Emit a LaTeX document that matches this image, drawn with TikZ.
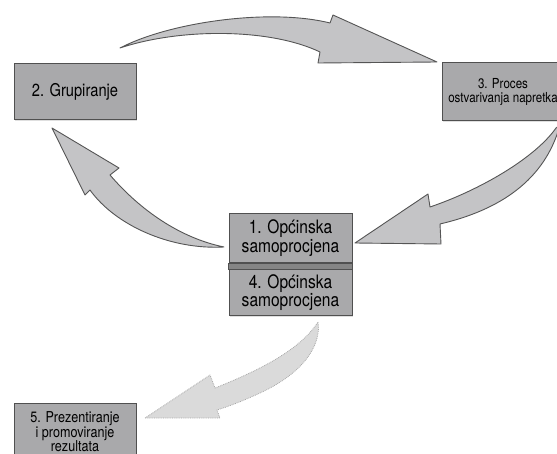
\documentclass[tikz,border=0pt]{standalone}
\usepackage{fontspec}
\setmainfont{TeX Gyre Heros}[FakeStretch=0.84]
\usetikzlibrary{shadows}
\definecolor{boxfill}{HTML}{A9A9AB}
\definecolor{boxline}{HTML}{505050}
\definecolor{arrfill}{HTML}{C4C4C6}
\definecolor{arrline}{HTML}{555555}
\definecolor{lightfill}{HTML}{DADADA}
\definecolor{lightline}{HTML}{A8A8A8}
\definecolor{bandfill}{HTML}{858585}
\tikzset{
  stepbox/.style={draw=boxline, line width=1pt, fill=boxfill, align=center,
    inner sep=0pt, minimum width=122pt,
    drop shadow={opacity=0.25, shadow xshift=1pt, shadow yshift=-1.2pt}},
  blockarrow/.style={draw=arrline, line width=0.9pt, fill=arrfill, line join=round},
  lightarrow/.style={draw=lightline, line width=0.8pt, densely dotted, fill=lightfill, line join=round}
}
\begin{document}
\begin{tikzpicture}[x=1pt, y=-1pt]
\useasboundingbox (0,0) rectangle (557,454);
\clip (0,0) rectangle (557,454);
% block arrows
\draw[blockarrow] (120,48) .. controls (170,22) and (270,8) .. (330,23)
  -- (333,15) -- (437,62) -- (318,63) -- (320,52)
  .. controls (270,28) and (180,28) .. cycle;
\draw[blockarrow] (560,125) .. controls (545,180) and (500,210) .. (440,224)
  -- (441,244) -- (355,243) -- (428,194) -- (430,207)
  .. controls (480,190) and (535,158) .. (556,128) -- cycle;
\draw[blockarrow] (52,128) -- (119,168) -- (110,175)
  .. controls (140,210) and (180,238) .. (224,247)
  .. controls (170,250) and (115,225) .. (90,190) -- (85,195) -- cycle;
\draw[lightarrow] (145,418) -- (210,375) -- (215,388)
  .. controls (260,370) and (300,350) .. (318,322)
  .. controls (321,340) and (310,370) .. (260,393)
  .. controls (245,400) and (230,406) .. (217,410) -- (220,418) -- cycle;
% boxes
\node[stepbox, minimum height=56pt, font=\fontsize{17.5}{20}\selectfont] (b2) at (75,92) {2. Grupiranje};
\node[stepbox, minimum height=58pt, font=\fontsize{13.8}{14}\selectfont] (b3) at (503,92) {3. Proces\\ostvarivanja napretka};
\node[stepbox, minimum height=58pt, font=\fontsize{15}{14.5}\selectfont, text depth=0pt] (b5) at (75,432) {5. Prezentiranje\\i promoviranje\\rezultata\vphantom{y}\rule{0pt}{0pt}};
\node[stepbox, minimum width=123pt, minimum height=49pt, font=\fontsize{18.5}{19}\selectfont] (c1) at (290.5,238.5) {1. Općinska\\samoprocjena};
\node[stepbox, minimum width=123pt, minimum height=46pt, font=\fontsize{18.5}{18}\selectfont] (c4) at (290.5,293) {4. Općinska\\samoprocjena};
\draw[boxline, line width=1pt, fill=bandfill] (c1.south west) rectangle (c4.north east);
\end{tikzpicture}
\end{document}
